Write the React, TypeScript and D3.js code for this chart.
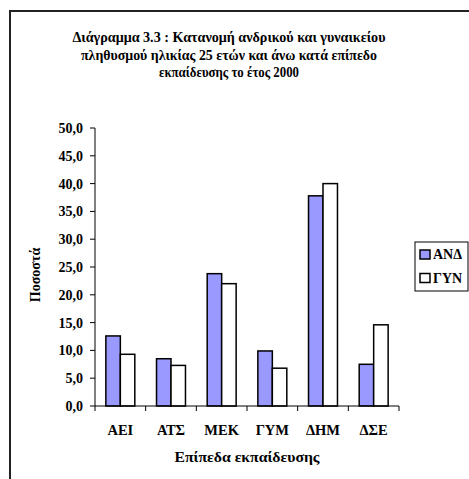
import React from "react";
import * as d3 from "d3";

const categories = ["ΑΕΙ", "ΑΤΣ", "ΜΕΚ", "ΓΥΜ", "ΔΗΜ", "ΔΣΕ"];
const seriesNames = ["ΑΝΔ", "ΓΥΝ"];
const andValues = [12.6, 8.5, 23.8, 9.9, 37.8, 7.5];
const gynValues = [9.3, 7.3, 22.0, 6.8, 40.0, 14.6];
const yTicks = [0, 5, 10, 15, 20, 25, 30, 35, 40, 45, 50];
const titleLines = [
  "Διάγραμμα 3.3 : Κατανομή ανδρικού και γυναικείου",
  "πληθυσμού ηλικίας 25 ετών και άνω κατά επίπεδο",
  "εκπαίδευσης το έτος 2000",
];
const titleWidths = [313, 296, 140];
const yLabel = "Ποσοστά";
const xLabel = "Επίπεδα εκπαίδευσης";
const colors = ["#9999FF", "#FFFFFF"];

export default function App() {
  const W = 469, H = 479;
  const left = 95, right = 399, top = 128, bottom = 406;
  const font = "'Liberation Serif', 'Times New Roman', serif";
  const x = d3.scaleBand<string>().domain(categories).range([left, right]).padding(0);
  const bw = x.bandwidth();
  const w = bw / 3.5;
  const x1 = d3.scaleBand<string>().domain(seriesNames).range([0.75 * w, 2.75 * w]).padding(0);
  const y = d3.scaleLinear().domain([0, 50]).range([bottom, top]);
  const fmt = (v: number) => d3.format(".1f")(v).replace(".", ",");
  const data = [andValues, gynValues];
  const boundaries = [...categories.map((c) => x(c) as number), right];

  return (
    <svg width={W} height={H} style={{ position: "absolute", left: 0, top: 0, background: "#fff" }}>
      <rect x={0} y={0} width={W} height={H} fill="#fff" />
      <rect x={10} y={11} width={W + 20} height={H + 20} fill="none" stroke="#222" strokeWidth={2} />
      <g fontFamily={font} fontWeight="bold" fontSize={14} textAnchor="middle" fill="#000">
        {titleLines.map((t, i) => (
          <text key={i} x={229} y={42 + i * 17.5} textLength={titleWidths[i]} lengthAdjust="spacingAndGlyphs">{t}</text>
        ))}
      </g>
      {/* y axis */}
      <line x1={left} x2={left} y1={top} y2={bottom} stroke="#000" strokeWidth={1} />
      {yTicks.map((t) => (
        <g key={t}>
          <line x1={left - 5} x2={left} y1={y(t)} y2={y(t)} stroke="#000" strokeWidth={1} />
          <text x={83} y={y(t)} dy="0.35em" textAnchor="end" fontFamily={font} fontWeight="bold" fontSize={14}>
            {fmt(t)}
          </text>
        </g>
      ))}
      {/* bars */}
      {categories.map((c, i) => (
        <g key={c}>
          {seriesNames.map((s, j) => (
            <rect
              key={s}
              x={(x(c) as number) + (x1(s) as number)}
              y={y(data[j][i])}
              width={x1.bandwidth()}
              height={bottom - y(data[j][i])}
              fill={colors[j]}
              stroke="#000"
              strokeWidth={1.5}
            />
          ))}
        </g>
      ))}
      {/* x axis */}
      <line x1={left} x2={right} y1={bottom} y2={bottom} stroke="#000" strokeWidth={1} />
      {boundaries.map((b, i) => (
        <line key={i} x1={b} x2={b} y1={bottom} y2={bottom + 5} stroke="#000" strokeWidth={1} />
      ))}
      {categories.map((c) => (
        <text key={c} x={(x(c) as number) + bw / 2} y={435} textAnchor="middle" fontFamily={font} fontWeight="bold" fontSize={14.5}>
          {c}
        </text>
      ))}
      <text x={(left + right) / 2} y={462} textAnchor="middle" fontFamily={font} fontWeight="bold" fontSize={14} textLength={145} lengthAdjust="spacingAndGlyphs">
        {xLabel}
      </text>
      <text transform={`translate(40,${(top + bottom) / 2 + 8}) rotate(-90)`} textAnchor="middle" fontFamily={font} fontWeight="bold" fontSize={14}>
        {yLabel}
      </text>
      {/* legend */}
      <rect x={415} y={242} width={53} height={49} fill="#fff" stroke="#000" strokeWidth={1} />
      {seriesNames.map((s, j) => (
        <g key={s}>
          <rect x={420} y={250 + j * 23.5} width={10} height={9} fill={colors[j]} stroke="#000" strokeWidth={1.5} />
          <text x={433} y={254.5 + j * 23.5} dy="0.35em" fontFamily={font} fontWeight="bold" fontSize={14}>
            {s}
          </text>
        </g>
      ))}
    </svg>
  );
}
